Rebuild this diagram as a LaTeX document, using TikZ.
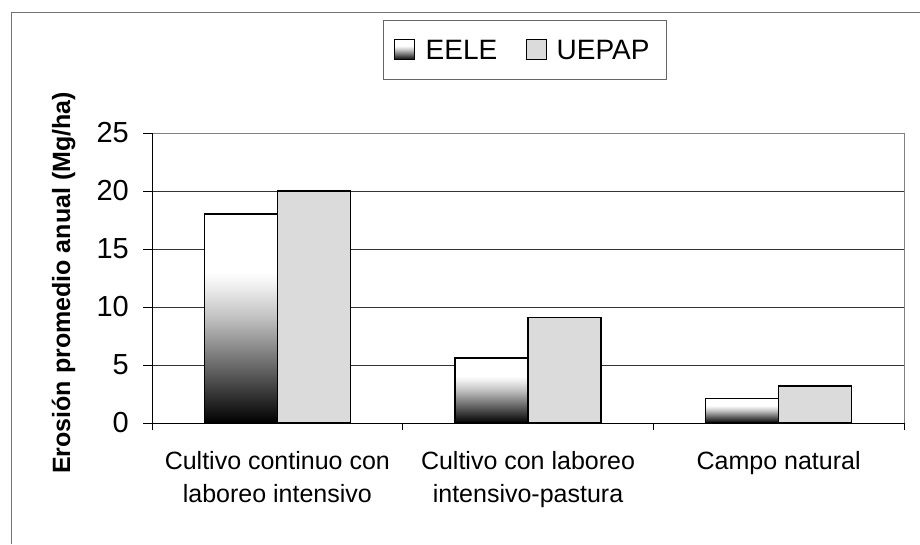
\documentclass[tikz,border=0pt]{standalone}
\usepackage{fontspec}
\setmainfont{Liberation Sans}
\usetikzlibrary{positioning}
\pgfdeclareverticalshading{degrade}{100bp}{color(0bp)=(black); color(25bp)=(black); color(30bp)=(black!85); color(40bp)=(black!55); color(50bp)=(black!25); color(57bp)=(black!8); color(61bp)=(white); color(100bp)=(white)}
\begin{document}
\begin{tikzpicture}[x=1pt, y=1pt,
    barre/.style = {draw=black, line width=1.4pt},
    eele/.style = {barre, shading=degrade},
    uepap/.style = {barre, fill=black!14},
    grille/.style = {black!80, line width=0.6pt},
    axe/.style = {black, line width=0.8pt},
    legsq/.style = {draw, line width=1pt, minimum size=20pt, inner sep=0pt},
    legtxt/.style = {inner sep=0pt, font=\fontsize{28pt}{30pt}\selectfont},
    graduation/.style = {anchor=east, inner sep=0pt, font=\fontsize{29pt}{32pt}\selectfont},
    categorie/.style = {anchor=north, align=center, inner sep=0pt, font=\fontsize{25pt}{33pt}\selectfont}]
    \useasboundingbox (0,0) rectangle (920,544);
    % Cadre
    \draw[black!55, line width=0.8pt] (11,0) |- (920,532);

    % Legende
    \node[draw=black!60, line width=0.8pt, minimum width=283pt, minimum height=59pt] (legende) at (524.5,494.5) {};
    \node[legsq, shading=degrade] (sqE) at (404,494) {};
    \node[legtxt, right=11pt of sqE] (txE) {EELE};
    \node[legsq, fill=black!14, right=28pt of txE.east, anchor=west] (sqU) {};
    \node[legtxt, right=10pt of sqU] (txU) {UEPAP};

    % Titre de l'axe
    \node[rotate=90, anchor=base, inner sep=0pt, font=\bfseries\fontsize{25pt}{30pt}\selectfont] (titre) at (70,261) {Erosión promedio anual (Mg/ha)};

    \begin{scope}[shift={(152,121)}, y=11.6pt]
        % Grille et axes
        \foreach \v in {5,10,15,20}{
            \draw[grille] (0,\v) -- (752,\v);
        }
        \draw[black!50, line width=0.8pt] (0,25) -| (752,0);
        \foreach \v in {0,5,...,25}{
            \draw[axe] (-9,\v) -- (0,\v);
            \node[graduation] (g\v) at (-23,\v) {\v};
        }
        \draw[axe] (0,25) -- (0,0) -- (752,0);
        \foreach \c in {0,1,2,3}{
            \draw[axe] (250.67*\c,0) -- (250.67*\c,-0.6);
        }

        % Barres
        \foreach \c/\e/\u in {0/18/20, 1/5.6/9.1, 2/2.1/3.2}{
            \draw[eele] (125.33+250.67*\c-73,0) rectangle (125.33+250.67*\c,\e);
            \draw[uepap] (125.33+250.67*\c,0) rectangle (125.33+250.67*\c+73,\u);
        }

        % Etiquettes des categories
        \node[categorie] (cat1) at (125.33,-2.41) {Cultivo continuo con\\laboreo intensivo};
        \node[categorie] (cat2) at (376,-2.41) {Cultivo con laboreo\\intensivo-pastura};
        \node[categorie] (cat3) at (626.67,-2.41) {Campo natural};
    \end{scope}
\end{tikzpicture}
\end{document}
